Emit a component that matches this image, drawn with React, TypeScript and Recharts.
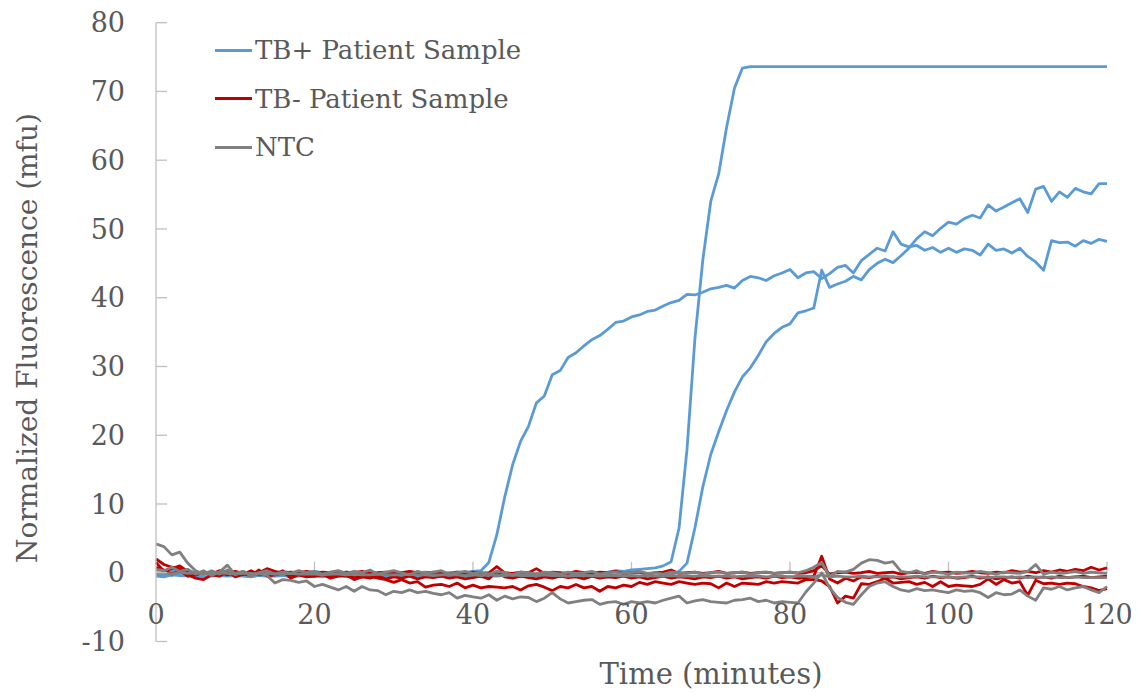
import React from 'react';
import { LineChart, Line, XAxis, YAxis, ReferenceLine, Legend, Label } from 'recharts';

const FONT = '"DejaVu Serif", serif';
const TEXT = '#595959';
const AXIS = '#BFBFBF';
const BLUE = '#5B9BD5';
const RED = '#C00000';
const GRAY = '#808080';

const minutes = Array.from({ length: 121 }, (_, i) => i);
const xTicks = [0, 20, 40, 60, 80, 100, 120];
const yTicks = [-10, 0, 10, 20, 30, 40, 50, 60, 70, 80];

// TB+ patient samples
const blueA = [
  -0.3, -0.4, 0.2, 0.5, 0.3, 0.0, -0.2, -0.1, 0.1, -0.2,
  0.0, -0.1, 0.1, 0.0, -0.2, 0.0, 0.2, 0.0, -0.1, 0.1,
  0.2, 0.0, -0.1, 0.0, 0.1, -0.1, 0.0, 0.1, -0.2, 0.0,
  0.1, 0.0, -0.1, 0.0, 0.1, 0.0, -0.1, 0.0, 0.1, 0.0,
  0.2, 0.3, 1.5, 5.5, 11.0, 15.7, 19.1, 21.3, 24.7, 25.7,
  28.8, 29.4, 31.3, 32.0, 33.0, 33.9, 34.5, 35.4, 36.4, 36.6,
  37.2, 37.5, 38.0, 38.2, 38.8, 39.3, 39.6, 40.5, 40.4, 40.8,
  41.3, 41.5, 41.8, 41.4, 42.5, 43.1, 42.9, 42.5, 43.2, 43.6,
  44.1, 42.9, 43.6, 43.8, 42.8, 43.5, 44.4, 44.7, 43.6, 45.4,
  46.3, 47.2, 46.8, 49.6, 47.8, 47.4, 47.6, 46.9, 47.3, 46.6,
  47.2, 46.6, 47.1, 46.9, 46.2, 47.8, 46.9, 47.1, 46.5, 47.2,
  46.0, 45.2, 44.0, 48.3, 48.0, 48.1, 47.5, 48.3, 47.9, 48.5,
  48.2,
];
const blueB = [
  0.0, -0.2, -0.4, 0.1, -0.3, -0.2, 0.0, -0.3, -0.1, -0.2,
  -0.3, -0.1, -0.2, -0.4, -0.1, -0.3, -0.2, 0.0, -0.2, -0.3,
  -0.1, -0.2, -0.3, -0.1, -0.2, 0.0, -0.3, -0.2, -0.1, -0.3,
  -0.2, -0.1, -0.3, -0.2, -0.2, -0.1, -0.3, -0.2, -0.1, -0.2,
  -0.3, -0.2, -0.1, -0.3, -0.2, -0.2, -0.1, -0.3, -0.2, -0.2,
  -0.1, -0.2, -0.3, -0.1, -0.2, -0.1, 0.0, 0.1, 0.3, 0.2,
  0.4, 0.5, 0.6, 0.7, 1.0, 1.6, 6.5, 17.9, 34.0, 45.5,
  54.0, 58.0, 64.8, 70.5, 73.4, 73.6, 73.6, 73.6, 73.6, 73.6,
  73.6, 73.6, 73.6, 73.6, 73.6, 73.6, 73.6, 73.6, 73.6, 73.6,
  73.6, 73.6, 73.6, 73.6, 73.6, 73.6, 73.6, 73.6, 73.6, 73.6,
  73.6, 73.6, 73.6, 73.6, 73.6, 73.6, 73.6, 73.6, 73.6, 73.6,
  73.6, 73.6, 73.6, 73.6, 73.6, 73.6, 73.6, 73.6, 73.6, 73.6,
  73.6,
];
const blueC = [
  -0.5, -0.6, -0.3, -0.4, -0.5, -0.4, -0.6, -0.5, -0.4, -0.5,
  -0.4, -0.5, -0.6, -0.4, -0.5, -0.5, -0.4, -0.6, -0.5, -0.4,
  -0.5, -0.6, -0.4, -0.5, -0.5, -0.4, -0.6, -0.5, -0.5, -0.4,
  -0.5, -0.6, -0.5, -0.4, -0.5, -0.5, -0.6, -0.4, -0.5, -0.5,
  -0.4, -0.6, -0.5, -0.5, -0.4, -0.5, -0.6, -0.5, -0.4, -0.5,
  -0.5, -0.6, -0.4, -0.5, -0.5, -0.4, -0.5, -0.6, -0.5, -0.4,
  -0.5, -0.5, -0.4, -0.5, -0.4, -0.3, 0.2, 1.4, 6.5, 12.5,
  17.2, 20.5, 23.6, 26.3, 28.5, 29.8, 31.6, 33.6, 34.8, 35.7,
  36.2, 37.8, 38.1, 38.5, 44.0, 41.5, 42.0, 42.4, 43.1, 42.6,
  44.1, 45.0, 45.6, 45.1, 46.1, 47.2, 48.6, 49.6, 49.0, 50.1,
  51.0, 50.7, 51.5, 52.0, 51.6, 53.5, 52.6, 53.2, 53.8, 54.4,
  52.4, 55.8, 56.2, 54.0, 55.4, 54.6, 55.9, 55.4, 55.1, 56.6,
  56.6,
];

// TB- patient samples
const red1 = [
  0.8, 0.4, -0.2, 0.3, -0.5, -0.3, 0.2, -0.4, 0.0, -0.3,
  0.1, -0.2, 0.3, -0.3, 0.0, -0.3, -0.1, -0.4, -0.2, -0.5,
  -0.5, -0.3, -0.6, -0.4, -0.5, -0.7, -0.6, -0.5, -0.8, -1.0,
  -1.4, -1.0, -1.5, -1.3, -2.1, -1.8, -1.7, -2.0, -1.5, -2.2,
  -1.8, -2.2, -2.0, -2.1, -2.2, -2.0, -2.5, -1.9, -1.7, -2.1,
  -2.6, -2.0, -2.2, -1.7, -2.2, -2.0, -2.7, -2.0, -2.2, -1.8,
  -2.0, -1.4, -1.7, -1.3, -1.5, -1.7, -1.3, -1.5, -1.7, -1.5,
  -1.6, -2.2, -1.5, -2.0, -1.5, -1.6, -1.7, -1.3, -1.5, -1.3,
  -1.4, -1.5, -1.0, -1.0, -1.2, -2.0, -4.4, -3.4, -3.7, -1.6,
  -1.7, -1.3, -0.8, -1.5, -1.4, -1.3, -1.7, -1.4, -2.0, -1.3,
  -2.0, -1.8, -1.9, -2.0, -1.7, -0.9, -1.7, -1.0, -1.5, -1.3,
  -3.3, -1.1, -1.6, -1.5, -1.7, -1.5, -1.6, -2.0, -2.2, -2.6,
  -2.3,
];
const red2 = [
  2.0, 1.2, 0.8, 0.6, -0.3, -0.8, -1.0, -0.3, -0.5, 0.2,
  -0.6, -0.2, -0.4, 0.4, -0.5, -0.3, 0.3, -0.8, -0.3, -0.6,
  -0.5, -0.2, -0.8, -0.5, -0.3, -1.0, -0.6, -0.8, -0.5, -0.9,
  -0.6, -0.8, -0.5, -0.9, -0.6, -0.7, -0.5, -0.8, -0.6, -0.9,
  -0.7, -0.5, -0.9, 0.2, -0.6, -0.8, -0.5, -0.7, -0.9, -0.6,
  -0.8, -0.5, -0.7, -0.6, -0.9, -0.5, -0.8, -0.6, -0.7, -0.5,
  -0.8, -0.6, -0.9, -0.7, -0.5, -0.8, -0.6, -0.7, -0.9, -0.6,
  -0.7, -0.5, -0.8, -0.6, -0.9, -0.7, -0.6, -0.8, -0.5, -0.7,
  -0.6, -0.8, -0.7, -0.5, 2.4, -0.9, -1.5, -0.8, -1.2, -0.6,
  -0.7, -0.5, -0.8, -0.6, -0.9, -0.7, -0.6, -0.8, -0.5, -0.7,
  -0.6, -0.8, -0.7, -0.5, -0.8, -0.6, -0.9, -0.7, -0.6, -0.8,
  -0.5, -0.7, -0.6, -0.8, -0.5, -0.7, -0.6, -0.5, -0.7, -0.6,
  -0.5,
];
const red3 = [
  1.5, 0.2, 0.6, 1.0, 0.2, -0.3, 0.1, -0.2, 0.3, 0.0,
  0.2, -0.1, 0.1, 0.0, 0.6, 0.2, -0.1, 0.1, 0.0, 0.2,
  -0.1, 0.1, 0.0, -0.2, 0.1, 0.0, 0.2, -0.1, 0.0, 0.1,
  -0.1, 0.0, 0.2, 0.0, -0.1, 0.1, 0.0, -0.2, 0.1, 0.0,
  0.1, -0.1, 0.0, 0.9, 0.0, -0.1, 0.1, 0.0, 0.6, -0.1,
  0.1, 0.0, -0.1, 0.2, 0.0, -0.1, 0.1, 0.0, 0.2, -0.1,
  0.0, 0.1, -0.2, 0.0, 0.1, 0.4, -0.1, 0.0, 0.1, -0.1,
  0.0, 0.2, -0.1, 0.0, 0.1, -0.1, 0.0, 0.1, -0.1, 0.0,
  0.1, -0.1, 0.0, 0.3, 1.0, -0.2, 0.0, 0.1, -0.1, 0.0,
  0.2, -0.1, 0.0, 0.1, -0.2, 0.0, 0.1, -0.1, 0.2, 0.0,
  0.1, -0.1, 0.0, 0.2, 0.0, -0.1, 0.1, 0.0, 0.3, 0.1,
  0.2, 0.0, 0.3, 0.1, 0.4, 0.2, 0.5, 0.3, 0.8, 0.4,
  0.7,
];

// NTC
const gray1 = [
  4.2, 3.8, 2.6, 3.0, 1.4, 0.3, -0.2, 0.3, -0.2, 0.4,
  -0.1, 0.2, -0.3, 0.0, -0.4, -1.5, -1.0, -1.1, -1.4, -1.2,
  -2.0, -1.7, -2.1, -2.5, -2.0, -2.7, -2.0, -2.5, -2.6, -3.2,
  -2.7, -2.9, -2.5, -2.9, -2.7, -3.0, -3.2, -2.9, -3.7, -3.3,
  -3.5, -3.7, -3.2, -4.0, -3.4, -3.8, -3.5, -3.6, -4.2, -3.7,
  -2.9, -3.8, -4.4, -4.2, -4.0, -3.9, -4.6, -4.3, -4.2, -4.6,
  -4.2, -4.4, -4.2, -4.4, -4.0, -3.7, -3.4, -4.4, -4.1, -3.9,
  -4.2, -4.3, -4.4, -4.0, -3.9, -3.7, -4.2, -4.0, -4.4, -4.2,
  -4.3, -4.4, -2.8, -1.5, 0.0, -2.2, -3.6, -4.3, -4.6, -3.2,
  -2.0, -1.5, -1.3, -2.0, -2.5, -2.7, -2.3, -2.6, -2.5, -2.7,
  -2.9, -2.5, -2.7, -2.6, -2.9, -3.6, -2.9, -3.2, -3.1, -2.5,
  -3.4, -4.0, -2.2, -2.4, -2.0, -2.5, -2.2, -2.0, -2.5, -2.9,
  -2.0,
];
const gray2 = [
  0.5, 0.3, 0.8, 0.2, 0.5, -0.2, 0.3, -0.4, 0.1, 1.1,
  -0.3, 0.2, -0.5, 0.0, 0.3, -0.2, 0.1, -0.1, 0.3, 0.0,
  0.2, -0.2, 0.1, 0.3, -0.1, 0.2, 0.0, 0.4, -0.2, 0.1,
  0.3, 0.0, -0.3, 0.2, -0.1, 0.1, 0.3, -0.2, 0.0, 0.2,
  -0.1, 0.1, -0.2, 0.2, 0.0, -0.3, 0.1, 0.0, -0.2, 0.1,
  0.0, -0.2, 0.1, -0.1, 0.0, 0.2, -0.2, 0.0, 0.1, -0.1,
  0.0, 0.2, -0.1, 0.0, -0.2, 0.1, 0.0, -0.1, 0.1, -0.2,
  0.0, 0.1, -0.1, 0.0, 0.1, -0.2, 0.0, 0.1, -0.1, 0.0,
  0.1, 0.0, 0.3, 0.8, 1.5, -0.5, 0.2, 0.1, 0.5, 1.4,
  1.9, 1.8, 1.4, 1.6, 0.2, 0.0, 0.3, -0.2, 0.1, 0.0,
  -0.2, 0.1, 0.0, -0.1, 0.2, 0.0, -0.2, 0.1, 0.0, -0.1,
  0.2, 1.2, -0.2, 0.1, -0.1, 0.0, 0.2, -0.1, 0.1, 0.0,
  -0.1,
];
const gray3 = [
  -0.1, 0.0, -0.2, 0.1, -0.1, 0.0, -0.2, -0.1, 0.0, -0.1,
  -0.2, -0.1, -0.1, -0.2, -0.1, -0.2, -0.2, -0.1, -0.2, -0.2,
  -0.2, -0.3, -0.2, -0.2, -0.3, -0.2, -0.3, -0.3, -0.2, -0.3,
  -0.3, -0.3, -0.2, -0.3, -0.3, -0.4, -0.3, -0.3, -0.3, -0.4,
  -0.3, -0.4, -0.3, -0.4, -0.4, -0.3, -0.4, -0.4, -0.4, -0.3,
  -0.4, -0.4, -0.5, -0.4, -0.4, -0.4, -0.5, -0.4, -0.4, -0.5,
  -0.4, -0.5, -0.4, -0.5, -0.5, -0.4, -0.5, -0.5, -0.5, -0.4,
  -0.5, -0.5, -0.5, -0.6, -0.5, -0.5, -0.5, -0.6, -0.5, -0.5,
  -0.6, -0.5, -0.5, -0.6, -0.3, -0.6, -0.5, -0.6, -0.6, -0.5,
  -0.6, -0.6, -0.5, -0.6, -0.6, -0.6, -0.5, -0.6, -0.6, -0.6,
  -0.6, -0.7, -0.6, -0.6, -0.6, -0.7, -0.6, -0.6, -0.7, -0.6,
  -0.7, -0.6, -0.7, -0.6, -0.7, -0.7, -0.6, -0.7, -0.7, -0.7,
  -0.7,
];

const series = [
  { key: 'blueA', values: blueA, color: BLUE },
  { key: 'blueB', values: blueB, color: BLUE },
  { key: 'blueC', values: blueC, color: BLUE },
  { key: 'red1', values: red1, color: RED },
  { key: 'red2', values: red2, color: RED },
  { key: 'red3', values: red3, color: RED },
  { key: 'gray1', values: gray1, color: GRAY },
  { key: 'gray2', values: gray2, color: GRAY },
  { key: 'gray3', values: gray3, color: GRAY },
];

const legendItems = [
  { name: 'TB+ Patient Sample', color: BLUE },
  { name: 'TB- Patient Sample', color: RED },
  { name: 'NTC', color: GRAY },
];

const rows = minutes.map((t, i) => {
  const r: Record<string, number> = { t };
  series.forEach((s) => {
    r[s.key] = s.values[i];
  });
  return r;
});

const X_TICK_UNITS = 1.6; // inward tick length on the zero axis, in y units

const XTick = (props: any) => {
  const { x, y, payload } = props;
  return (
    <text x={x} y={y - 26.5} dy="0.35em" textAnchor="middle" fill={TEXT} fontFamily={FONT} fontSize={27}>
      {payload.value}
    </text>
  );
};

const LegendContent = () => (
  <div style={{ fontFamily: FONT, fontSize: 26, color: TEXT }}>
    {legendItems.map((it) => (
      <div key={it.name} style={{ display: 'flex', alignItems: 'center', height: 48.5, whiteSpace: 'nowrap' }}>
        <span style={{ display: 'inline-block', width: 37, height: 0, borderTop: `3px solid ${it.color}`, marginRight: 3 }} />
        <span>{it.name}</span>
      </div>
    ))}
  </div>
);

export default function App() {
  return (
    <LineChart
      width={1131}
      height={685}
      data={rows}
      margin={{ top: 14.7, right: 32, bottom: 21.5, left: 0 }}
    >
      <XAxis
        type="number"
        dataKey="t"
        domain={[0, 120]}
        ticks={xTicks}
        axisLine={false}
        tickLine={false}
        tickSize={0}
        tickMargin={0}
        height={30}
        tick={<XTick />}
        interval={0}
      >
        <Label
          content={() => (
            <text x={703} y={676} textAnchor="middle" fill={TEXT} fontFamily={FONT} fontSize={29}>
              Time (minutes)
            </text>
          )}
        />
      </XAxis>
      <YAxis
        type="number"
        domain={[-10, 80]}
        ticks={yTicks}
        width={148}
        axisLine={{ stroke: AXIS, strokeWidth: 1.3 }}
        tickLine={{ stroke: AXIS, strokeWidth: 1.3 }}
        tickSize={-11}
        tickMargin={42}
        interval={0}
        tick={{ fill: TEXT, fontSize: 27, fontFamily: FONT }}
      >
        <Label
          content={() => (
            <text
              x={19}
              y={330}
              transform="rotate(-90, 19, 330)"
              textAnchor="middle"
              dominantBaseline="central"
              fill={TEXT}
              fontFamily={FONT}
              fontSize={28}
            >
              Normalized Fluorescence (mfu)
            </text>
          )}
        />
      </YAxis>
      <ReferenceLine y={0} stroke={AXIS} strokeWidth={1.3} />
      {xTicks
        .filter((t) => t > 0)
        .map((t) => (
          <ReferenceLine
            key={`xt${t}`}
            segment={[
              { x: t, y: 0 },
              { x: t, y: X_TICK_UNITS },
            ]}
            stroke={AXIS}
            strokeWidth={1.3}
          />
        ))}
      {series.map((s) => (
        <Line
          key={s.key}
          dataKey={s.key}
          type="linear"
          stroke={s.color}
          strokeWidth={2.8}
          dot={false}
          activeDot={false}
          isAnimationActive={false}
          strokeLinejoin="round"
        />
      ))}
      <Legend
        layout="horizontal"
        verticalAlign="middle"
        align="center"
        wrapperStyle={{ left: 207, top: 18, width: 420, height: 146 }}
        content={<LegendContent />}
      />
    </LineChart>
  );
}
